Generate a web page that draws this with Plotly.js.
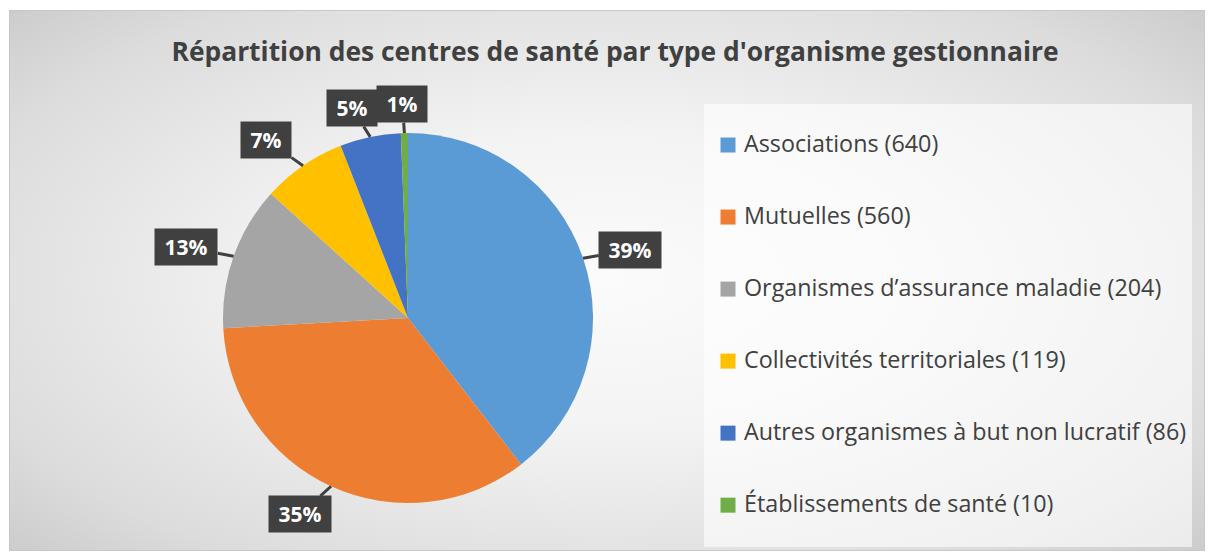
<!DOCTYPE html>
<html>
<head>
<meta charset="utf-8">
<script src="https://cdn.plot.ly/plotly-3.0.1.min.js"></script>
<style>
  html, body { margin: 0; padding: 0; background: #ffffff; }
  #wrap { position: relative; width: 1209px; height: 555px; overflow: hidden; }
  #bg { position: absolute; left: 9px; top: 10px; width: 1196px; height: 541px;
        box-sizing: border-box; border: 1px solid #c8c8c8;
        background: radial-gradient(ellipse 75% 80% at 50% 50%, #fbfbfb 0%, #f3f3f3 35%, #dcdcdc 75%, #c4c4c4 100%); }
  #chart { position: absolute; left: 0; top: 0; width: 1209px; height: 555px; }
</style>
</head>
<body>
<div id="wrap"><div id="bg"></div><div id="chart"></div></div>
<script>
// ---- data ----
const categories = [
  "Associations",
  "Mutuelles",
  "Organismes d\u2019assurance maladie",
  "Collectivités territoriales",
  "Autres organismes à but non lucratif",
  "Établissements de santé"
];
const counts = [640, 560, 204, 119, 86, 10];
const percentLabels = ["39%", "35%", "13%", "7%", "5%", "1%"];
const colors = ["#5B9BD5", "#ED7D31", "#A5A5A5", "#FFC000", "#4472C4", "#70AD47"];

// ---- layout geometry ----
const W = 1209, H = 555;
const cx = 408, cy = 318, R = 185;  // pie centre and radius (px)
const FONT = "'Open Sans', Lato, sans-serif";

const legendLabels = categories.map((c, i) =>
  "\u00a0<br><span style=\"font-size:23.3px\">" + c + " (" + counts[i] + ")</span><br>\u00a0");

// callouts at the middle angle of each slice
const total = counts.reduce((a, b) => a + b, 0);
let cum = 0;
const annotations = [];
counts.forEach((v, i) => {
  const mid = (cum + v / 2) / total;
  cum += v;
  const th = mid * 2 * Math.PI;                 // clockwise from 12 o'clock
  const ux = Math.sin(th), uy = -Math.cos(th);   // screen direction (y down)
  const tipX = cx + R * ux, tipY = cy + R * uy;
  const hw = percentLabels[i].length > 2 ? 32 : 25, hh = 17;
  const d = Math.min(Math.abs(ux) > 1e-6 ? hw / Math.abs(ux) : 1e9,
                     Math.abs(uy) > 1e-6 ? hh / Math.abs(uy) : 1e9) + 12;
  const ax = ux * d + 75 * ux * (1 - Math.abs(ux));
  const ay = uy * d + 8 * Math.pow(ux, 4);
  annotations.push({
    xref: "paper", yref: "paper",
    x: tipX / W, y: 1 - tipY / H,
    ax: ax, ay: ay,
    text: "<b>\u00a0" + percentLabels[i] + "\u00a0</b>",
    showarrow: true, arrowhead: 0, arrowwidth: 3, arrowcolor: "#404040",
    standoff: 0,
    bgcolor: "#404040", borderpad: 4,
    font: { family: FONT, size: 21, color: "#ffffff" }
  });
});

const trace = {
  type: "pie",
  labels: legendLabels,
  values: counts,
  sort: false,
  direction: "clockwise",
  rotation: 0,
  textinfo: "none",
  hoverinfo: "none",
  marker: { colors: colors, line: { width: 0 } },
  domain: { x: [(cx - R) / W, (cx + R) / W], y: [(H - cy - R) / H, (H - cy + R) / H] }
};

const layout = {
  width: W, height: H,
  margin: { l: 0, r: 0, t: 0, b: 0 },
  paper_bgcolor: "rgba(0,0,0,0)",
  plot_bgcolor: "rgba(0,0,0,0)",
  title: {
    text: "<b>Répartition des centres de santé par type d'organisme gestionnaire</b>",
    x: 615 / W, xanchor: "center", y: 1 - 52 / H, yanchor: "middle",
    font: { family: FONT, size: 26.4, color: "#404040" }
  },
  showlegend: true,
  legend: {
    x: 704 / W, xanchor: "left", y: 1 - 104 / H, yanchor: "top",
    bgcolor: "rgba(255,255,255,0.6)",
    borderwidth: 0,
    font: { family: FONT, size: 17.7, color: "#404040" },
    traceorder: "normal"
  },
  annotations: annotations
};

Plotly.newPlot("chart", [trace], layout, { staticPlot: true, displayModeBar: false }).then(() => {
  // slightly larger legend swatches, as in the original
  document.querySelectorAll("#chart .legend path.legendpie").forEach(p => {
    p.setAttribute("d", "M7.5,7.5H-7.5V-7.5H7.5Z");
    p.setAttribute("transform", "translate(24,0)");
  });
});
</script>
</body>
</html>
